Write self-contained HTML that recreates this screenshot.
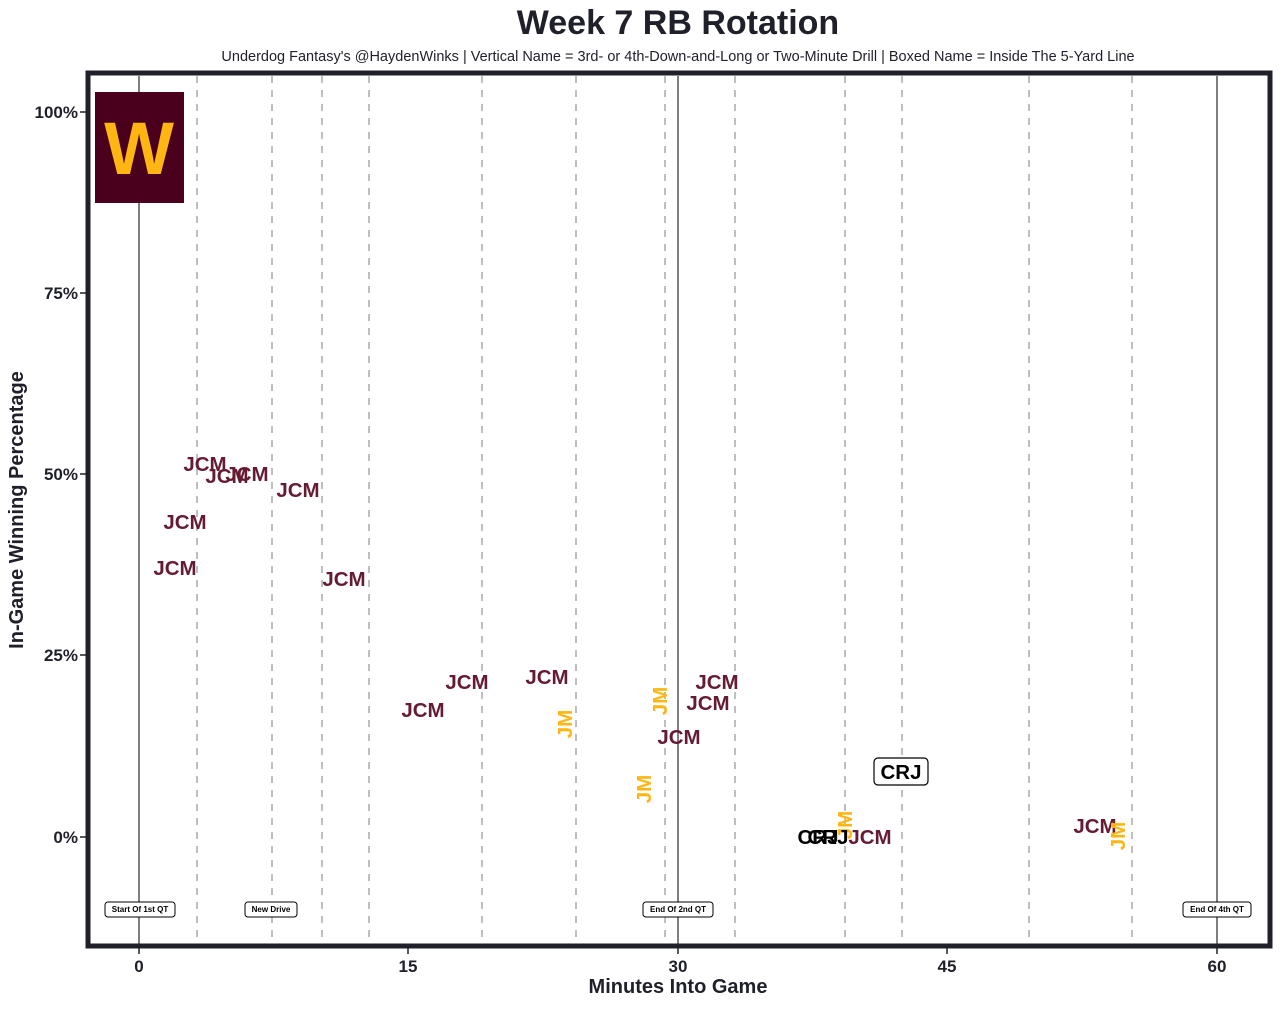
<!DOCTYPE html>
<html><head><style>body{margin:0;background:#fff}</style></head><body>
<svg width="1280" height="1006" xmlns="http://www.w3.org/2000/svg" font-family="Liberation Sans, sans-serif">
<rect width="1280" height="1006" fill="#fff"/>
<text x="678" y="34" text-anchor="middle" font-size="34" font-weight="bold" fill="#1f2029">Week 7 RB Rotation</text>
<text x="678" y="61" text-anchor="middle" font-size="14.5" fill="#1f2029">Underdog Fantasy's @HaydenWinks | Vertical Name = 3rd- or 4th-Down-and-Long or Two-Minute Drill | Boxed Name = Inside The 5-Yard Line</text>
<g stroke="#aaa" stroke-width="1.5" stroke-dasharray="7,7">
<line x1="197" y1="76" x2="197" y2="944"/><line x1="272" y1="76" x2="272" y2="944"/><line x1="322" y1="76" x2="322" y2="944"/><line x1="369" y1="76" x2="369" y2="944"/><line x1="482" y1="76" x2="482" y2="944"/><line x1="576" y1="76" x2="576" y2="944"/><line x1="665" y1="76" x2="665" y2="944"/><line x1="735" y1="76" x2="735" y2="944"/><line x1="845" y1="76" x2="845" y2="944"/><line x1="902" y1="76" x2="902" y2="944"/><line x1="1029" y1="76" x2="1029" y2="944"/><line x1="1132" y1="76" x2="1132" y2="944"/>
</g>
<g stroke="#555" stroke-width="1.5">
<line x1="139" y1="76" x2="139" y2="944"/><line x1="678" y1="76" x2="678" y2="944"/><line x1="1217" y1="76" x2="1217" y2="944"/>
</g>
<rect x="95" y="92" width="89" height="111" fill="#4a001c"/>
<text x="139" y="174" text-anchor="middle" font-size="74" font-weight="bold" fill="#ffb612">W</text>
<g font-size="20.5" font-weight="bold" fill="#651c32" text-anchor="middle">
<text x="205" y="471">JCM</text><text x="227" y="483">JCM</text><text x="247" y="481">JCM</text><text x="298" y="497">JCM</text><text x="185" y="529">JCM</text><text x="175" y="575">JCM</text><text x="344" y="586">JCM</text><text x="423" y="717">JCM</text><text x="467" y="689">JCM</text><text x="547" y="684">JCM</text><text x="717" y="689">JCM</text><text x="708" y="710">JCM</text><text x="679" y="744">JCM</text><text x="870" y="844">JCM</text><text x="1095" y="833">JCM</text>
</g>
<g font-size="20.5" font-weight="bold" fill="#ffb612" text-anchor="middle">
<text transform="translate(572,724) rotate(-90)">JM</text><text transform="translate(667,701) rotate(-90)">JM</text><text transform="translate(651,789) rotate(-90)">JM</text><text transform="translate(852,825) rotate(-90)">JM</text><text transform="translate(1125,836) rotate(-90)">JM</text>
</g>
<g font-size="20.5" font-weight="bold" fill="#000" text-anchor="middle">
<text x="818" y="844">CRJ</text><text x="828" y="844">CRJ</text>
<rect x="874" y="758" width="54" height="27" rx="4" fill="#fff" stroke="#000" stroke-width="1.2"/>
<text x="901" y="779">CRJ</text>
</g>
<g font-size="8" font-weight="bold" text-anchor="middle">
<rect x="105" y="902" width="70" height="15" rx="3" fill="#fff" stroke="#000"/><text x="140" y="912">Start Of 1st QT</text>
<rect x="245" y="902" width="52" height="15" rx="3" fill="#fff" stroke="#000"/><text x="271" y="912">New Drive</text>
<rect x="643" y="902" width="70" height="15" rx="3" fill="#fff" stroke="#000"/><text x="678" y="912">End Of 2nd QT</text>
<rect x="1183" y="902" width="68" height="15" rx="3" fill="#fff" stroke="#000"/><text x="1217" y="912">End Of 4th QT</text>
</g>
<rect x="88" y="73" width="1182" height="873" fill="none" stroke="#1f2029" stroke-width="5"/>
<g font-size="17" font-weight="bold" fill="#1f2029" text-anchor="end">
<text x="78" y="118">100%</text><text x="78" y="299">75%</text><text x="78" y="480">50%</text><text x="78" y="661">25%</text><text x="78" y="843">0%</text>
</g>
<g stroke="#1f2029" stroke-width="1.5"><line x1="80" y1="112" x2="86" y2="112"/><line x1="80" y1="293" x2="86" y2="293"/><line x1="80" y1="474" x2="86" y2="474"/><line x1="80" y1="655" x2="86" y2="655"/><line x1="80" y1="837" x2="86" y2="837"/>
<line x1="139" y1="948" x2="139" y2="954"/><line x1="408" y1="948" x2="408" y2="954"/><line x1="678" y1="948" x2="678" y2="954"/><line x1="947" y1="948" x2="947" y2="954"/><line x1="1217" y1="948" x2="1217" y2="954"/></g>
<g font-size="17" font-weight="bold" fill="#1f2029" text-anchor="middle">
<text x="139" y="972">0</text><text x="408" y="972">15</text><text x="678" y="972">30</text><text x="947" y="972">45</text><text x="1217" y="972">60</text>
</g>
<text x="678" y="993" text-anchor="middle" font-size="20" font-weight="bold" fill="#1f2029">Minutes Into Game</text>
<text transform="translate(23,510) rotate(-90)" text-anchor="middle" font-size="20" font-weight="bold" fill="#1f2029">In-Game Winning Percentage</text>
</svg>
</body></html>
